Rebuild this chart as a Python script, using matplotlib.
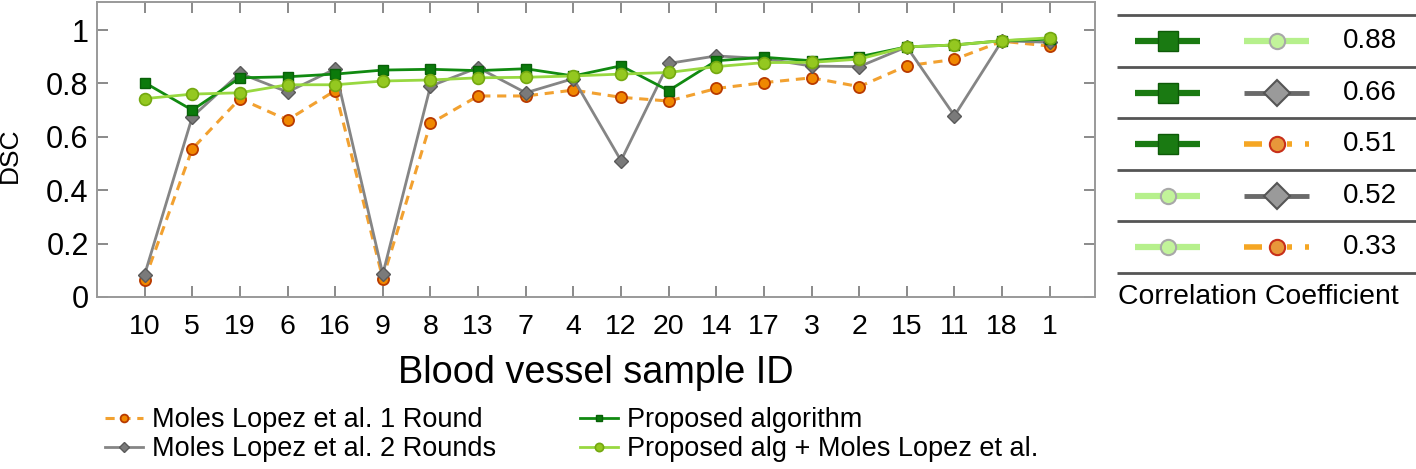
import matplotlib
matplotlib.use("Agg")
import matplotlib.pyplot as plt
import numpy as np

plt.rcParams['font.family'] = ['Liberation Sans', 'DejaVu Sans']

sample_ids = ["10", "5", "19", "6", "16", "9", "8", "13", "7", "4",
              "12", "20", "14", "17", "3", "2", "15", "11", "18", "1"]

moles_1round = [0.065, 0.555, 0.743, 0.663, 0.773, 0.069, 0.650, 0.753, 0.753, 0.775,
                0.748, 0.734, 0.781, 0.803, 0.821, 0.788, 0.866, 0.890, 0.958, 0.940]
moles_2rounds = [0.084, 0.675, 0.838, 0.768, 0.854, 0.086, 0.790, 0.859, 0.765, 0.818,
                 0.511, 0.875, 0.903, 0.893, 0.865, 0.863, 0.937, 0.679, 0.960, 0.954]
proposed = [0.803, 0.700, 0.821, 0.825, 0.835, 0.850, 0.853, 0.848, 0.855, 0.828,
            0.866, 0.773, 0.885, 0.898, 0.885, 0.900, 0.937, 0.944, 0.960, 0.966]
proposed_plus = [0.743, 0.760, 0.765, 0.795, 0.795, 0.809, 0.813, 0.821, 0.823, 0.828,
                 0.835, 0.841, 0.863, 0.878, 0.879, 0.891, 0.937, 0.944, 0.960, 0.971]

series_labels = ["Moles Lopez et al. 1 Round", "Moles Lopez et al. 2 Rounds",
                 "Proposed algorithm", "Proposed alg + Moles Lopez et al."]

y_ticks = [0, 0.2, 0.4, 0.6, 0.8, 1]
y_tick_labels = ["0", "0.2", "0.4", "0.6", "0.8", "1"]

# correlation table: pairs of series keys and coefficient
corr_pairs = [("prop", "plus"), ("prop", "m2"), ("prop", "m1"), ("plus", "m2"), ("plus", "m1")]
corr_values = ["0.88", "0.66", "0.51", "0.52", "0.33"]

W, H = 1416, 469
fig = plt.figure(figsize=(W / 100, H / 100), dpi=100)
ax = fig.add_axes([97 / W, (H - 297) / H, (1095 - 97) / W, (297 - 2) / H])

x = np.arange(len(sample_ids))
ax.plot(x, moles_1round, linestyle=(0, (3, 2.2)), color='#f2a130', lw=2.2,
        marker='o', ms=8, mfc='#f08800', mec='#b83a00', mew=1.3, label=series_labels[0], zorder=2)
ax.plot(x, moles_2rounds, linestyle='-', color='#858585', lw=2,
        marker='D', ms=7, mfc='#7a7a7a', mec='#5a5a5a', mew=1, label=series_labels[1], zorder=3)
ax.plot(x, proposed, linestyle='-', color='#118a11', lw=2,
        marker='s', ms=7, mfc='#0b7a0b', mec='#086008', mew=1, label=series_labels[2], zorder=4)
ax.plot(x, proposed_plus, linestyle='-', color='#98d840', lw=2,
        marker='o', ms=8.5, mfc='#94c820', mec='#74a810', mew=1.2, label=series_labels[3], zorder=5)

ax.set_xlim(-1, 19.95)
ax.set_ylim(0, 1.105)
ax.set_xticks(x)
ax.set_xticklabels(sample_ids, fontsize=20.5)
ax.set_yticks(y_ticks)
ax.set_yticklabels(y_tick_labels, fontsize=22)
ax.tick_params(direction='in', length=8, width=1.2, color='#777777', top=True, right=True)
ax.tick_params(axis='x', pad=12)
ax.tick_params(axis='y', pad=6)
for s in ax.spines.values():
    s.set_color('#999999')
    s.set_linewidth(1.4)
ax.set_xlabel("Blood vessel sample ID", fontsize=27.3, labelpad=11)
fig.text(9.5 / W, 1 - 155 / H, "DSC", fontsize=19, rotation=90, ha='center', va='center')

fig.legend(loc='upper left', bbox_to_anchor=(105 / W, 1 - 407 / H), ncol=2, frameon=False,
           fontsize=19.5, handlelength=1.4, handletextpad=0.33, columnspacing=3.1,
           labelspacing=0.12, borderaxespad=0, borderpad=0, markerscale=0.7)

# correlation panel
styles = {
    "prop": dict(color='#1a7a12', lw=4.5, marker='s', ms=14.5, mfc='#1a7a12', mec='#0e5a08', mew=1, ls='-'),
    "plus": dict(color='#b6f08c', lw=4.5, marker='o', ms=11, mfc='#c2f49a', mec='#a8a8a8', mew=1.5, ls='-'),
    "m2": dict(color='#6a6a6a', lw=3.5, marker='D', ms=13, mfc='#9a9a9a', mec='#555555', mew=1.5, ls='-'),
    "m1": dict(color='#f5a623', lw=4, marker='o', ms=11, mfc='#e8973a', mec='#c8301a', mew=1.5,
               ls=(0, (3.24, 4.5, 0.9, 2.34, 0.72, 5))),
}
pax = fig.add_axes([1100 / W, (H - 320) / H, 316 / W, 320 / H])
pax.set_xlim(1100, 1416)
pax.set_ylim(320, 0)
pax.axis('off')
row_tops = [15, 67, 118, 170, 221, 273]
for yy in row_tops:
    pax.plot([1117, 1416], [yy, yy], color='#555555', lw=2, solid_capstyle='butt')
for i, ((a, b), val) in enumerate(zip(corr_pairs, corr_values)):
    yc = (row_tops[i] + row_tops[i + 1]) / 2
    for key, (x0, x1) in ((a, (1135, 1200)), (b, (1244, 1309))):
        st = dict(styles[key])
        mk = {k: st.pop(k) for k in ('marker', 'ms', 'mfc', 'mec', 'mew')}
        pax.plot([x0, x1], [yc, yc], color=st['color'], lw=st['lw'], ls=st['ls'], solid_capstyle='butt',
                 dash_capstyle='butt')
        pax.plot([(x0 + x1) / 2], [yc], ls='none', **mk)
    pax.text(1343, yc, val, fontsize=20, va='center', ha='left')
pax.text(1118, 297, "Correlation Coefficient", fontsize=20.4, va='center', ha='left')

fig.savefig("out.png", dpi=100)
